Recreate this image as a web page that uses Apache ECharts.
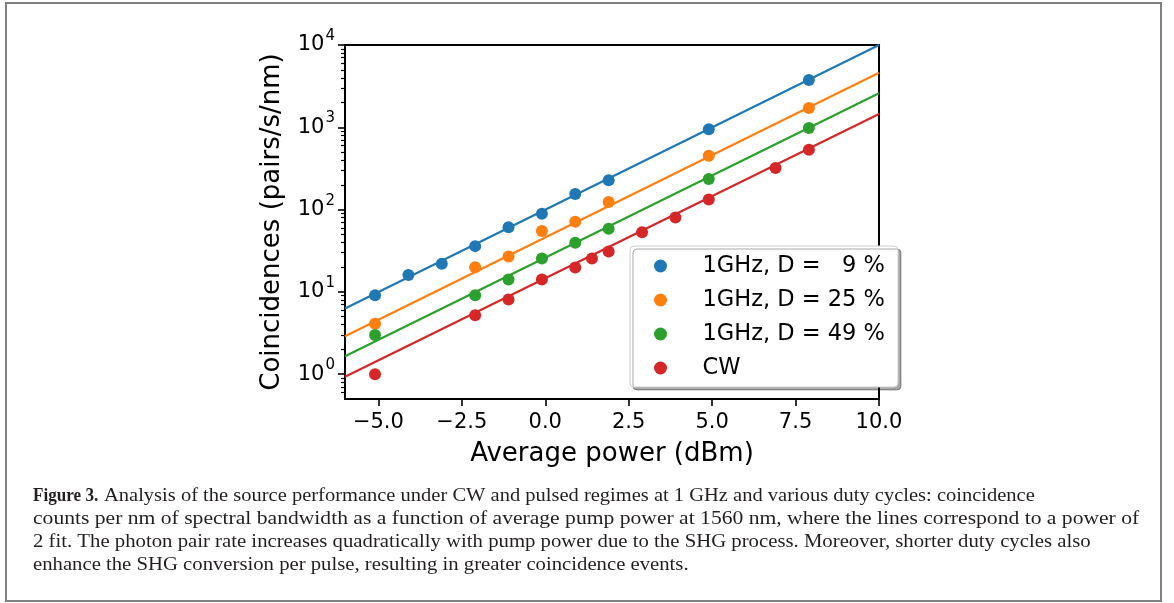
<!DOCTYPE html>
<html>
<head>
<meta charset="utf-8">
<script src="https://cdn.jsdelivr.net/npm/echarts@6/dist/echarts.min.js"></script>
<style>
html, body { margin: 0; padding: 0; background: #fff; }
#chart { width: 1174px; height: 603px; }
</style>
</head>
<body>
<div id="chart"></div>
<script>
// measured points (average power in dBm, coincidences in pairs/s/nm)
var power9 = [-5.1, -4.1, -3.1, -2.1, -1.1, -0.1, 0.9, 1.9, 4.9, 7.9];
var coinc9 = [9.1, 16, 22, 36, 61, 89, 155, 228, 950, 3750];
var power25 = [-5.1, -2.1, -1.1, -0.1, 0.9, 1.9, 4.9, 7.9];
var coinc25 = [4.1, 20, 27, 55, 71, 124, 450, 1720];
var power49 = [-5.1, -2.1, -1.1, -0.1, 0.9, 1.9, 4.9, 7.9];
var coinc49 = [3.0, 9.1, 14.2, 25.5, 39.5, 58.5, 236, 980];
var powerCW = [-5.1, -2.1, -1.1, -0.1, 0.9, 1.4, 1.9, 2.9, 3.9, 4.9, 6.9, 7.9];
var coincCW = [1.0, 5.2, 8.1, 14.2, 19.8, 25.5, 31, 53, 80, 133, 320, 535];

// power-of-2 fit lines, end points read at the plot edges
var fitX = [-6, 10];
var fit9 = [6.3, 10000];
var fit25 = [2.9, 4600];
var fit49 = [1.65, 2600];
var fitCW = [0.93, 1450];

var names = ['1GHz, D =   9 %', '1GHz, D = 25 %', '1GHz, D = 49 %', 'CW'];
var colors = ['#1f77b4', '#ff7f0e', '#2ca02c', '#d62728'];

var xTicks = [-5, -2.5, 0, 2.5, 5, 7.5, 10];
var yTicks = [1, 10, 100, 1000, 10000];
var yMinor = [0.6, 0.7, 0.8, 0.9, 2, 3, 4, 5, 6, 7, 8, 9, 20, 30, 40, 50, 60, 70, 80, 90,
    200, 300, 400, 500, 600, 700, 800, 900, 2000, 3000, 4000, 5000, 6000, 7000, 8000, 9000];

var captionLines = [
    'Analysis of the source performance under CW and pulsed regimes at 1 GHz and various duty cycles: coincidence',
    'counts per nm of spectral bandwidth as a function of average pump power at 1560 nm, where the lines correspond to a power of',
    '2 fit. The photon pair rate increases quadratically with pump power due to the SHG process. Moreover, shorter duty cycles also',
    'enhance the SHG conversion per pulse, resulting in greater coincidence events.'
];
// the caption is justified, so each line gets its own horizontal stretch
var captionStretch = [1.079, 1.137, 1.092, 1.09];

function zip(xs, ys) {
    var out = [];
    for (var i = 0; i < xs.length; i++) out.push([xs[i], ys[i]]);
    return out;
}

var chart = echarts.init(document.getElementById('chart'));

var pts = [zip(power9, coinc9), zip(power25, coinc25), zip(power49, coinc49), zip(powerCW, coincCW)];
var fits = [fit9, fit25, fit49, fitCW];
var series = [];
for (var i = 0; i < 4; i++) {
    series.push({
        name: 'fit ' + i,
        type: 'line',
        data: zip(fitX, fits[i]),
        symbol: 'none',
        lineStyle: { color: colors[i], width: 2.2 },
        z: 2,
        silent: true
    });
}
for (var i = 0; i < 4; i++) {
    series.push({
        name: names[i],
        type: 'scatter',
        data: pts[i],
        symbol: 'circle',
        symbolSize: 12,
        itemStyle: { color: colors[i], opacity: 1 },
        z: 3
    });
}

var font = 'DejaVu Sans';
var capFont = 'Liberation Serif';

var graphics = [
    {
        type: 'rect',
        shape: { x: 6, y: 3, width: 1155, height: 598 },
        style: { fill: 'none', stroke: '#808080', lineWidth: 2 },
        z: 1
    },
    {
        type: 'rect',
        shape: { x: 630, y: 246, width: 268, height: 141, r: 4 },
        style: {
            fill: '#fff', stroke: '#cccccc', lineWidth: 1,
            shadowColor: 'rgba(0,0,0,0.35)', shadowOffsetX: 3, shadowOffsetY: 3, shadowBlur: 0
        },
        z: 15
    },
    {
        type: 'text',
        x: 33, y: 496, scaleX: 0.9,
        style: { text: 'Figure 3.', fontFamily: capFont, fontWeight: 'bold', fontSize: 19, fill: '#231f20', verticalAlign: 'middle' },
        z: 1
    }
];
for (var k = 0; k < captionLines.length; k++) {
    graphics.push({
        type: 'text',
        x: k === 0 ? 104 : 33,
        y: 496 + 23 * k,
        scaleX: captionStretch[k],
        style: { text: captionLines[k], fontFamily: capFont, fontSize: 19, fill: '#231f20', verticalAlign: 'middle' },
        z: 1
    });
}

var option = {
    animation: false,
    backgroundColor: '#fff',
    grid: {
        left: 345, top: 45, width: 534, height: 354,
        show: true, borderColor: '#000', borderWidth: 2, backgroundColor: 'transparent'
    },
    legend: {
        data: names,
        orient: 'vertical',
        left: 654, top: 254,
        padding: 0,
        itemGap: 10,
        itemWidth: 74,
        itemHeight: 13,
        icon: 'circle',
        selectedMode: false,
        textStyle: { fontSize: 22.5, fontFamily: font, color: '#000', lineHeight: 24 },
        z: 20
    },
    xAxis: {
        type: 'value',
        min: -6, max: 10,
        name: 'Average power (dBm)',
        nameLocation: 'middle',
        nameGap: 42,
        nameTextStyle: { fontSize: 26, fontFamily: font, color: '#000' },
        axisLine: { show: true, onZero: false, lineStyle: { color: '#000', width: 2 } },
        axisTick: { show: true, customValues: xTicks, length: 7, lineStyle: { color: '#000', width: 1.6 } },
        axisLabel: {
            customValues: xTicks, margin: 13, fontSize: 21, fontFamily: font, color: '#000',
            formatter: function (v) { return v.toFixed(1).replace('-', '\u2212'); }
        },
        splitLine: { show: false }
    },
    yAxis: [
        {
            type: 'log', logBase: 10,
            min: 0.5, max: 10000,
            name: 'Coincidences (pairs/s/nm)',
            nameLocation: 'middle',
            nameGap: 60,
            nameTextStyle: { fontSize: 26, fontFamily: font, color: '#000' },
            axisLine: { show: true, onZero: false, lineStyle: { color: '#000', width: 2 } },
            axisTick: { show: true, customValues: yTicks, length: 7, lineStyle: { color: '#000', width: 1.6 } },
            axisLabel: {
                customValues: yTicks, margin: 10, color: '#000',
                formatter: function (v) {
                    var e = Math.round(Math.log(v) / Math.LN10);
                    return '{b|10}{s|' + e + '}';
                },
                rich: {
                    b: { fontSize: 21, fontFamily: font, color: '#000' },
                    s: { fontSize: 15, fontFamily: font, color: '#000', verticalAlign: 'top', padding: [0, 0, 18, 1] }
                }
            },
            splitLine: { show: false }
        },
        {
            type: 'log', logBase: 10,
            min: 0.5, max: 10000,
            position: 'left',
            axisLine: { show: false, onZero: false },
            axisTick: { show: true, customValues: yMinor, length: 4, lineStyle: { color: '#000', width: 1.2 } },
            axisLabel: { show: false },
            splitLine: { show: false }
        }
    ],
    graphic: graphics,
    series: series
};

chart.setOption(option);
</script>
</body>
</html>
